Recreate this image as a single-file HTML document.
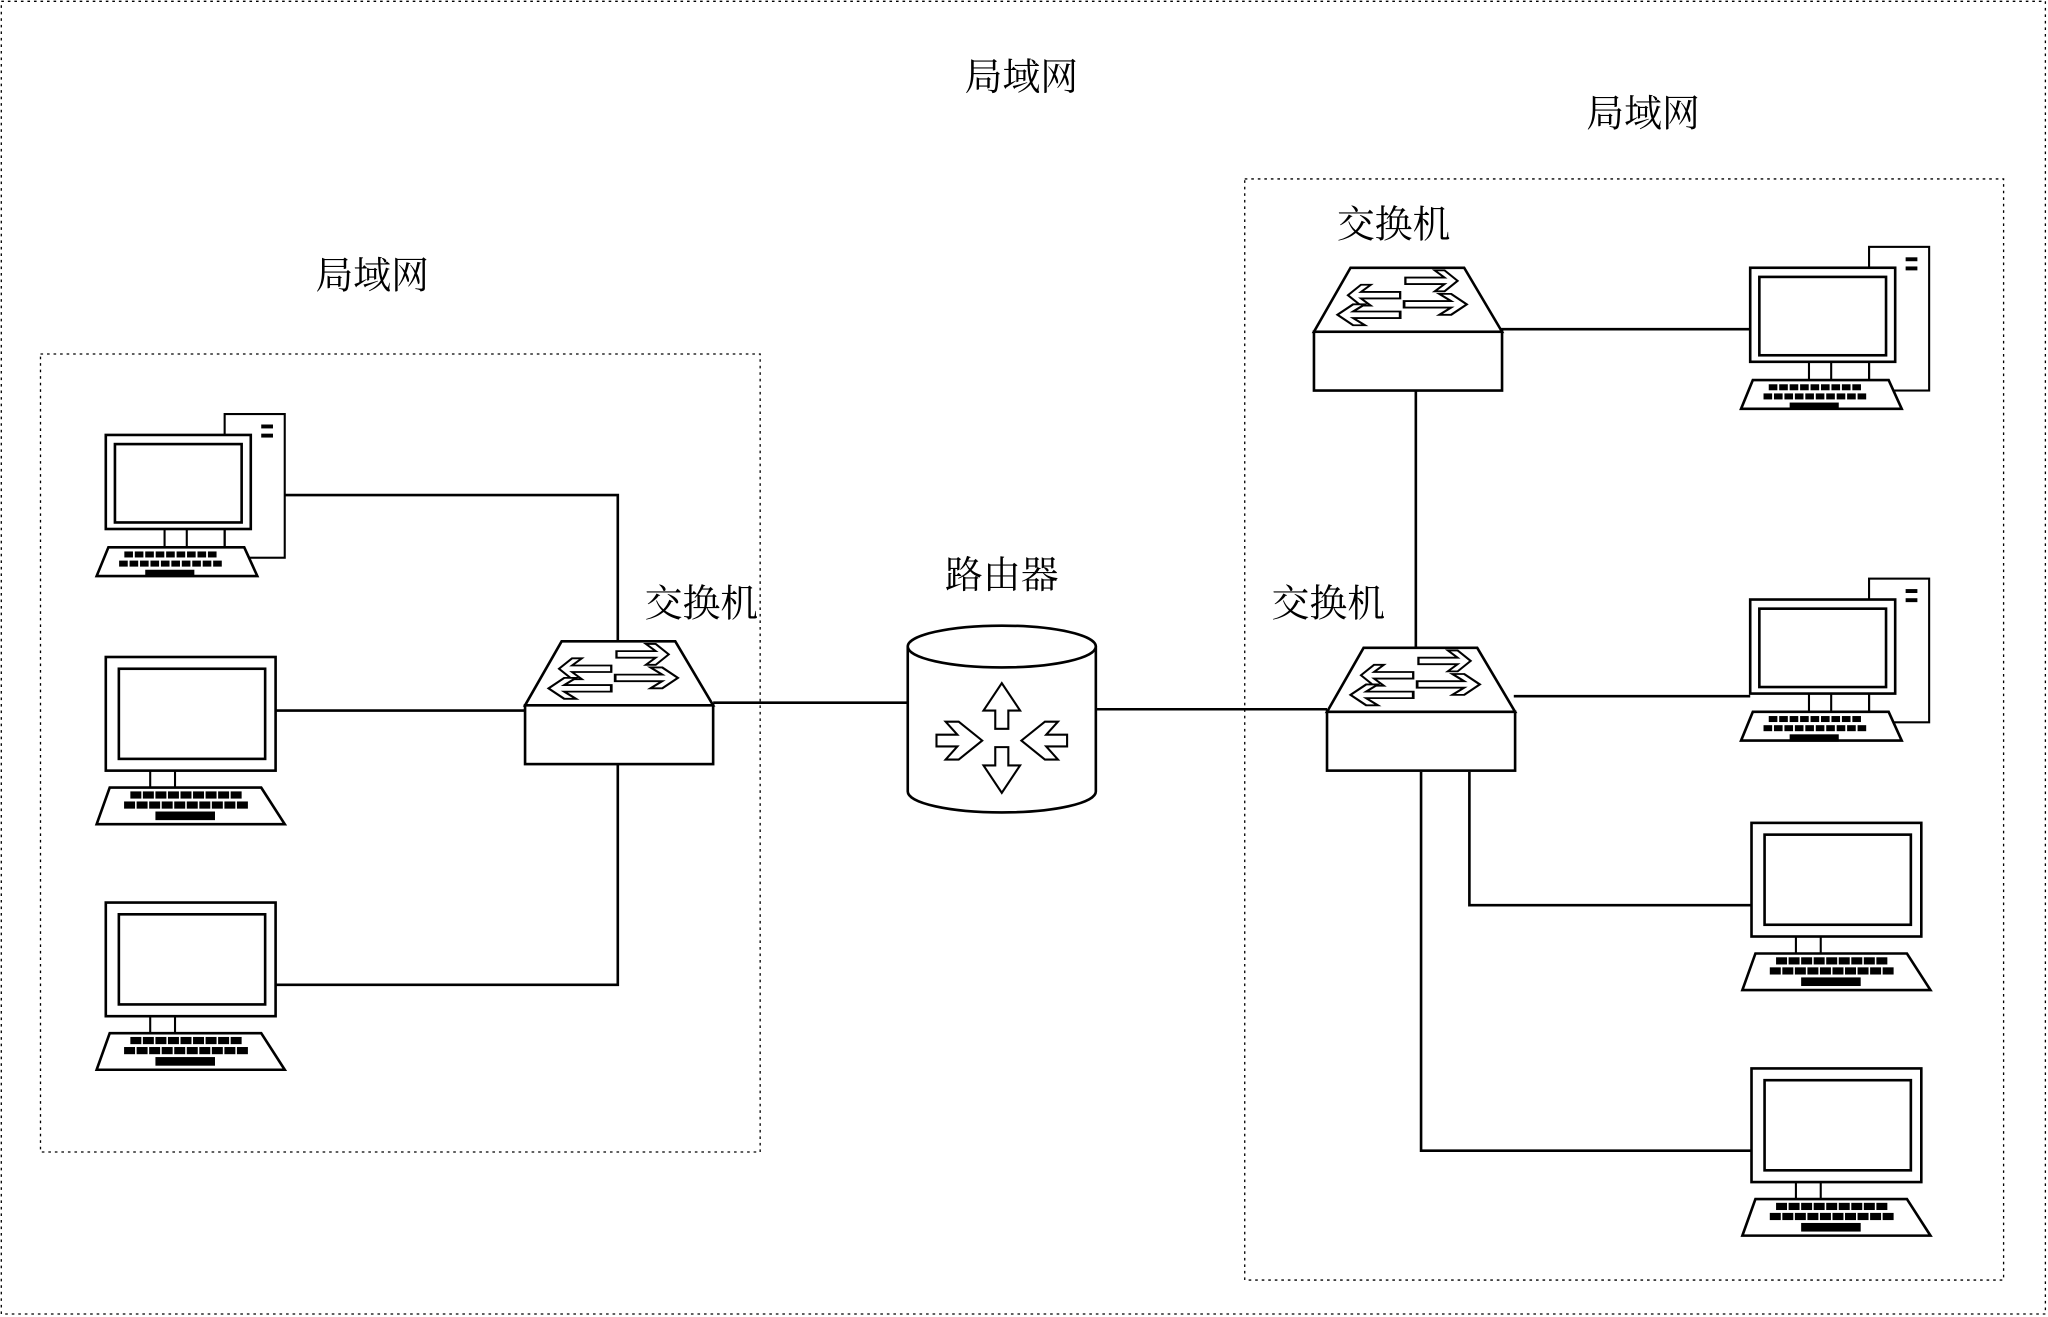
<!DOCTYPE html>
<html><head><meta charset="utf-8"><style>
html,body{margin:0;padding:0;background:#fff;}
svg{display:block;}
text{font-family:"Liberation Serif","Noto Serif CJK SC","Noto Sans CJK SC",serif;font-size:29px;fill:#000;}
</style></head><body>
<svg width="2048" height="1317" viewBox="0 0 1568 1008.3" preserveAspectRatio="none" xmlns="http://www.w3.org/2000/svg">
<defs>
<g id="kb">
  <g fill="#000">
    <rect x="0" y="0" width="5" height="3"/><rect x="8" y="0" width="5" height="3"/><rect x="16" y="0" width="5" height="3"/><rect x="24" y="0" width="5" height="3"/><rect x="32" y="0" width="5" height="3"/><rect x="40" y="0" width="5" height="3"/><rect x="48" y="0" width="5" height="3"/><rect x="56" y="0" width="5" height="3"/><rect x="64" y="0" width="5" height="3"/>
    <rect x="-4" y="7" width="5" height="3"/><rect x="4" y="7" width="5" height="3"/><rect x="12" y="7" width="5" height="3"/><rect x="20" y="7" width="5" height="3"/><rect x="28" y="7" width="5" height="3"/><rect x="36" y="7" width="5" height="3"/><rect x="44" y="7" width="5" height="3"/><rect x="52" y="7" width="5" height="3"/><rect x="60" y="7" width="5" height="3"/><rect x="68" y="7" width="5" height="3"/>
    <rect x="16" y="14" width="36" height="4"/>
  </g>
</g>
<g id="pcT" fill="none" stroke="#000" stroke-width="1.6">
  <rect x="172" y="317" width="46" height="110" fill="#fff"/>
  <rect x="200" y="325" width="9" height="3" fill="#000" stroke="none"/>
  <rect x="200" y="332" width="9" height="3" fill="#000" stroke="none"/>
  <rect x="81" y="333" width="111" height="72" fill="#fff" stroke-width="2"/>
  <rect x="88" y="340" width="97" height="60" stroke-width="2"/>
  <line x1="126" y1="405" x2="126" y2="419"/><line x1="143" y1="405" x2="143" y2="419"/><line x1="172" y1="405" x2="172" y2="419"/>
  <polygon points="83,419 187,419 197,441 74,441" fill="#fff" stroke-width="2"/>
  <use href="#kb" x="96" y="423"/>
</g>
<g id="pcN" fill="none" stroke="#000" stroke-width="2">
  <rect x="81" y="503" width="130" height="87" fill="#fff"/>
  <rect x="91" y="512" width="112" height="69"/>
  <line x1="115" y1="590" x2="115" y2="603" stroke-width="1.6"/><line x1="134" y1="590" x2="134" y2="603" stroke-width="1.6"/>
  <polygon points="84,603 200,603 218,631 74,631" fill="#fff"/>
  <g transform="translate(101,607) scale(1.2,1.1)"><use href="#kb"/></g>
</g>
<path id="ar" d="M0,-2.5 L24,-2.5 L18,-8 L24,-8 L32,0 L24,8 L18,8 L24,2.5 L0,2.5 Z" fill="#fff" stroke="#000" stroke-width="1.4"/>
<g id="sw">
  <polygon points="402,540 430,491 517,491 546,540" fill="#fff" stroke="#000" stroke-width="2"/>
  <rect x="402" y="540" width="144" height="45" fill="#fff" stroke="#000" stroke-width="2"/>
  <use href="#ar" transform="translate(472,501) scale(1.25,1)"/>
  <use href="#ar" transform="translate(468,512) scale(-1.25,1)"/>
  <use href="#ar" transform="translate(471,519) scale(1.5,1)"/>
  <use href="#ar" transform="translate(468,527) scale(-1.5,1)"/>
</g>
<path id="rar" d="M-5,0 L-5,-14 L-14,-14 L0,-35 L14,-14 L5,-14 L5,0 Z" fill="#fff" stroke="#000" stroke-width="1.6"/>
<path id="chev" d="M0,-4.5 L16,-4.5 L7,-14.5 L17,-14.5 L35,0 L17,14.5 L7,14.5 L16,4.5 L0,4.5 Z" fill="#fff" stroke="#000" stroke-width="1.6"/>
</defs>

<rect x="1" y="1" width="1565" height="1005" fill="none" stroke="#000" stroke-width="1" stroke-dasharray="2,3"/>
<rect x="31" y="271" width="551" height="611" fill="none" stroke="#000" stroke-width="1" stroke-dasharray="2,3"/>
<rect x="953" y="137" width="581" height="843" fill="none" stroke="#000" stroke-width="1" stroke-dasharray="2,3"/>

<text x="782" y="69" text-anchor="middle">局域网</text>
<text x="285" y="221" text-anchor="middle">局域网</text>
<text x="1258" y="97" text-anchor="middle">局域网</text>
<text x="537" y="472" text-anchor="middle">交换机</text>
<text x="1067" y="182" text-anchor="middle">交换机</text>
<text x="1017" y="472" text-anchor="middle">交换机</text>
<text x="767" y="450" text-anchor="middle">路由器</text>

<g fill="none" stroke="#000" stroke-width="2">
  <polyline points="218,379 473,379 473,491"/>
  <line x1="211" y1="544" x2="402" y2="544"/>
  <polyline points="473,585 473,754 211,754"/>
  <line x1="546" y1="538" x2="695" y2="538"/>
  <line x1="839" y1="543" x2="1016" y2="543"/>
  <line x1="1084" y1="299" x2="1084" y2="496"/>
  <line x1="1149" y1="252" x2="1340" y2="252"/>
  <line x1="1159" y1="533" x2="1340" y2="533"/>
  <polyline points="1125,591 1125,693 1341,693"/>
  <polyline points="1088,591 1088,881 1341,881"/>
</g>

<use href="#pcT"/>
<use href="#pcT" transform="translate(1259,-128)"/>
<use href="#pcT" transform="translate(1259,126)"/>
<use href="#pcN"/>
<use href="#pcN" transform="translate(0,188)"/>
<use href="#pcN" transform="translate(1260,127)"/>
<use href="#pcN" transform="translate(1260,315)"/>

<use href="#sw"/>
<use href="#sw" transform="translate(614,5)"/>
<use href="#sw" transform="translate(604,-286)"/>

<g>
  <path d="M695,495 L695,606 A72,16 0 0 0 839,606 L839,495" fill="#fff" stroke="#000" stroke-width="2"/>
  <ellipse cx="767" cy="495" rx="72" ry="16" fill="#fff" stroke="#000" stroke-width="2"/>
  <use href="#rar" transform="translate(767,558)"/>
  <use href="#rar" transform="translate(767,572) scale(1,-1)"/>
  <use href="#chev" transform="translate(717,567)"/>
  <use href="#chev" transform="translate(817,567) scale(-1,1)"/>
</g>
</svg>
</body></html>
